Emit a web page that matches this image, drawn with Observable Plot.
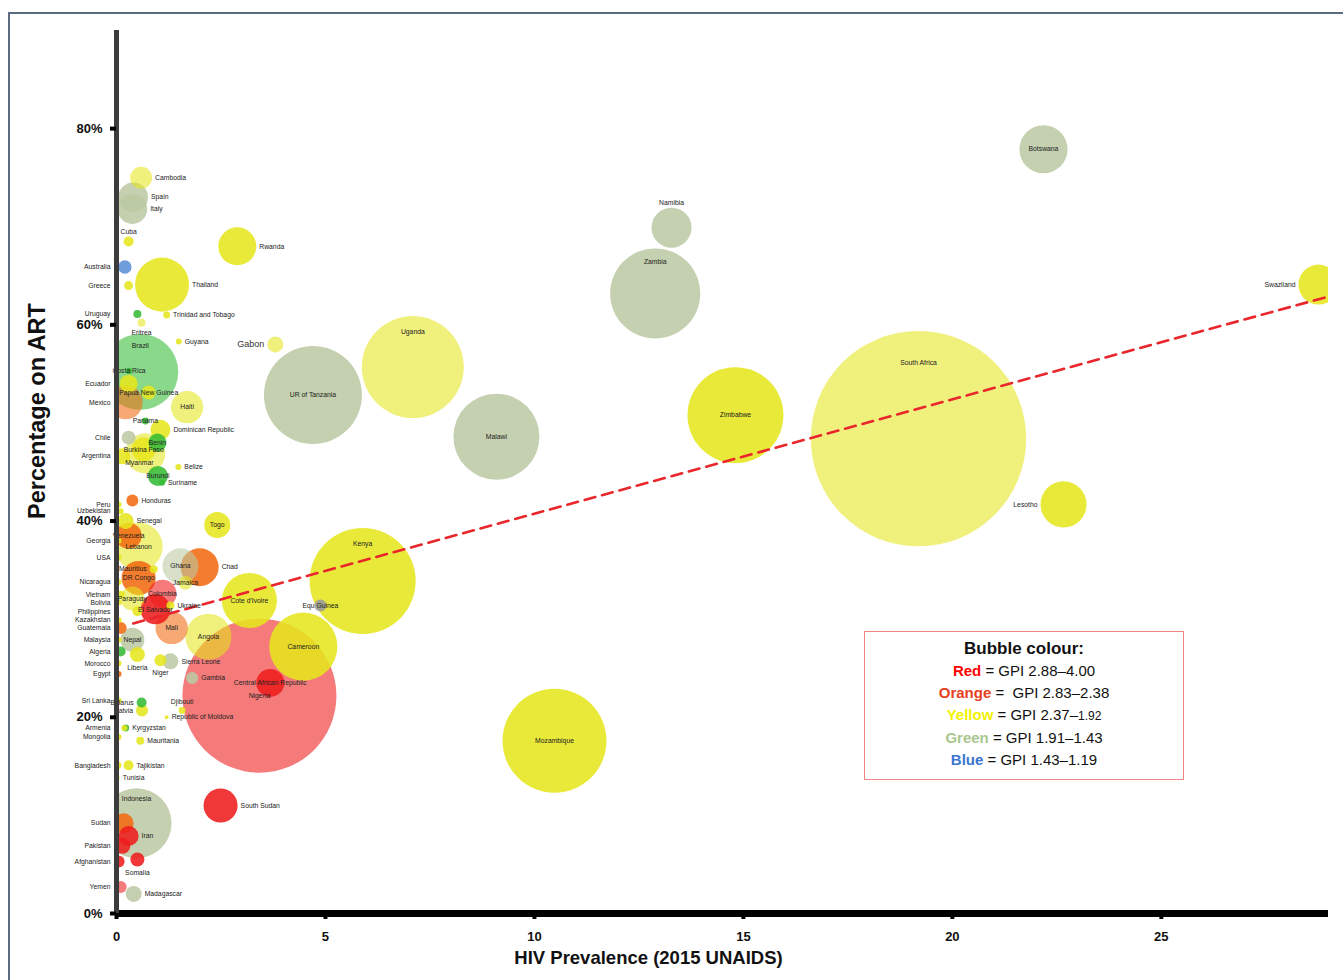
<!DOCTYPE html>
<html>
<head>
<meta charset="utf-8">
<script src="https://cdn.jsdelivr.net/npm/d3@7"></script>
<script src="https://cdn.jsdelivr.net/npm/@observablehq/plot@0.6"></script>
<style>
  html, body { margin: 0; padding: 0; background: #fff; }
  #wrap { position: relative; width: 1343px; height: 980px; overflow: hidden; }
  #frame { position: absolute; left: 8px; top: 12px; width: 1400px; height: 1000px;
           border-top: 2px solid #5d6b80; border-left: 2px solid #5d6b80; pointer-events: none; }
  #chart { position: absolute; left: 0; top: 0; }
  g[aria-label="x-axis tick label"] text, g[aria-label="y-axis tick label"] text {
    font-weight: bold; font-size: 13px; fill: #111;
  }
  #legend { position: absolute; left: 864px; top: 631px; width: 320px; height: 149px;
            border: 1px solid #ef8585; background: #fff; text-align: center;
            font-family: "Liberation Sans", Arial, sans-serif; color: #111; box-sizing: border-box;
            padding-top: 6px; }
  #legend div { line-height: 22px; font-size: 15px; }
  #legend .title { font-weight: bold; font-size: 17px; }
  #legend b { font-weight: bold; }
</style>
</head>
<body>
<div id="wrap">
  <div id="chart"></div>
  <div id="frame"></div>
  <div id="legend"></div>
</div>
<script>
// ---------------- DATA ----------------
const countries = [
  "Cambodia","Spain","Italy","Cuba","Rwanda","Australia","Thailand","Greece","Uruguay","Trinidad and Tobago",
  "Eritrea","Guyana","Gabon","Brazil","Costa Rica","Ecuador","Papua New Guinea","Mexico","Haiti","Panama",
  "Dominican Republic","Benin","Chile","Burkina Faso","Myanmar","Argentina","Belize","Burundi","Suriname","UR of Tanzania",
  "Uganda","Malawi","Botswana","Namibia","Zambia","Swaziland","South Africa","Zimbabwe","Lesotho","Kenya",
  "Mozambique","Nigeria","Cameroon","Central African Republic","Cote d'Ivoire","Equ Guinea","Angola","Chad","Ghana","Jamaica",
  "Togo","Mali","Ukraine","DR Congo","Colombia","El Salvador","Paraguay","Philippines","Guatemala","Nepal",
  "Mauritius","Lebanon","Venezuela","Senegal","Honduras","USA","Peru","Uzbekistan","Georgia","Nicaragua",
  "Vietnam","Bolivia","Kazakhstan","Malaysia","Algeria","Liberia","Niger","Sierra Leone","Morocco","Egypt",
  "Gambia","Sri Lanka","Belarus","Latvia","Djibouti","Republic of Moldova","Armenia","Kyrgyzstan","Mongolia","Mauritania",
  "Bangladesh","Tajikistan","Tunisia","Indonesia","Sudan","Iran","Pakistan","Afghanistan","Somalia","Yemen",
  "Madagascar","South Sudan"
];
// HIV prevalence (%, 2015 UNAIDS)
const hivPrevalence = [
  0.59,0.40,0.38,0.29,2.89,0.20,1.09,0.29,0.50,1.20,
  0.60,1.49,3.80,0.57,0.30,0.29,0.77,0.22,1.69,0.69,
  1.05,0.98,0.29,0.65,0.69,0.14,1.48,0.99,1.09,4.70,
  7.09,9.09,22.18,13.28,12.89,28.76,19.19,14.81,22.66,5.89,
  10.48,3.42,4.47,3.68,3.18,4.88,2.20,1.99,1.53,1.65,
  2.41,1.32,1.29,0.53,1.10,0.93,0.38,0.50,0.10,0.38,
  0.89,0.53,0.29,0.22,0.38,0.05,0.05,0.10,0.05,0.05,
  0.10,0.05,0.05,0.05,0.10,0.50,1.05,1.29,0.05,0.05,
  1.81,0.05,0.60,0.61,1.57,1.20,0.19,0.22,0.05,0.57,
  0.02,0.29,0.03,0.48,0.17,0.29,0.14,0.05,0.50,0.10,
  0.41,2.49
];
// Percentage on ART
const artCoverage = [
  75.0,73.0,71.8,68.5,68.0,65.9,64.1,64.0,61.1,61.0,
  60.2,58.3,58.0,55.2,55.3,54.0,53.1,52.1,51.6,50.2,
  49.3,48.0,48.5,47.3,46.9,46.6,45.5,44.6,43.9,52.85,
  55.7,48.6,77.9,69.9,63.2,64.1,48.4,50.8,41.7,33.9,
  17.6,22.2,27.2,23.5,31.9,31.4,28.2,35.3,35.4,33.7,
  39.6,29.1,31.4,34.2,32.6,31.0,32.1,30.8,29.1,27.9,
  35.1,37.4,38.5,40.0,42.1,36.3,41.7,41.0,38.0,33.8,
  32.5,31.7,29.9,27.9,26.7,26.4,25.8,25.7,25.5,24.4,
  24.0,21.7,21.5,20.7,20.7,20.0,18.9,18.9,18.0,17.6,
  15.1,15.1,13.8,9.2,9.2,7.9,6.9,5.3,5.5,2.7,
  2.0,11.0
];
// Bubble size (relative area units)
const bubbleSize = [
  1.2,2.2,2.2,0.25,3.6,0.45,7.3,0.2,0.16,0.12,
  0.16,0.09,0.64,14.4,0.1,0.81,0.49,2.9,2.6,0.12,
  1.0,0.81,0.49,1.44,4.0,0.64,0.09,1.0,0.09,24.0,
  26.0,18.5,5.8,4.0,20.3,4.0,116,23.0,5.3,28.1,
  27.0,59.3,11.6,1.96,7.6,0.36,5.3,3.6,3.2,0.49,
  1.7,2.6,0.16,2.9,1.96,2.25,1.44,0.25,0.36,1.44,
  0.16,5.8,1.7,0.64,0.36,0.09,0.09,0.09,0.09,0.09,
  0.16,0.09,0.09,0.09,0.25,0.56,0.36,0.64,0.09,0.09,
  0.36,0.09,0.25,0.36,0.12,0.04,0.09,0.12,0.09,0.16,
  0.16,0.25,0.04,12.25,1.0,1.0,0.64,0.36,0.49,0.36,
  0.64,2.9
];
// GPI colour band
const gpiBand = [
  "Yellow","Green","Green","Yellow","Yellow","Blue","Yellow","Yellow","Lime","Yellow",
  "Yellow","Yellow","Yellow","Lime","Lime","Yellow","Yellow","Orange","Yellow","Lime",
  "Yellow","Lime","Green","Yellow","Yellow","Yellow","Yellow","Lime","Lime","Green",
  "Yellow","Green","Green","Green","Green","Yellow","Yellow","Yellow","Yellow","Yellow",
  "Yellow","Red","Yellow","Red","Yellow","Grey","Yellow","Orange","Green","Yellow",
  "Yellow","Orange","Yellow","Orange","Red","Red","Yellow","Yellow","Orange","Green",
  "Yellow","Yellow","Orange","Yellow","Orange","Yellow","Yellow","Yellow","Yellow","Yellow",
  "Yellow","Yellow","Yellow","Yellow","Lime","Yellow","Yellow","Green","Yellow","Orange",
  "Green","Yellow","Lime","Yellow","Yellow","Yellow","Yellow","Lime","Yellow","Yellow",
  "Yellow","Yellow","Yellow","Green","Orange","Red","Red","Red","Red","Red",
  "Green","Red"
];
// Label placement relative to bubble (L: left of axis, R: right, W: west, C: centre, T: top inside, S: low inside, A: above, B: below)
const labelSide = [
  "R","R","R","A","R","L","R","L","L","R",
  "B","R","W","T","C","L","C","L","C","C",
  "R","C","L","C","S","L","R","C","R","C",
  "T","C","C","A","T","W","T","C","W","T",
  "C","C","C","C","C","C","C","R","C","C",
  "C","C","R","C","C","C","C","L","L","C",
  "W","C","C","R","R","L","L","L","L","L",
  "L","L","L","L","L","B","B","R","L","L",
  "R","L","W","W","A","R","L","R","L","R",
  "L","R","R","T","L","R","L","L","B","L",
  "R","R"
];
const bands = ["Red","Orange","Yellow","Green","Lime","Blue","Grey"];
const bandColors = ["#ee1c1c","#f26a12","#e6e61e","#bccaa4","#36bb36","#5b8fd6","#9a9a9a"];
const translucent = new Set(["South Africa","Uganda","Angola","Myanmar","Lebanon","Nigeria","Mali","Colombia",
  "Brazil","Ghana","Paraguay","Cambodia","Haiti","Gabon","Eritrea","Jamaica","Yemen","Mexico"]);

const xTicks = [0,5,10,15,20,25];
const yTicks = [0,20,40,60,80];
const xDomain = [0, 29];
const yDomain = [0, 90];
const trendIntercept = 29.1, trendSlope = 1.165, trendStartX = 0.4;
const xTitle = "HIV Prevalence (2015 UNAIDS)";
const yTitle = "Percentage on ART";
const legendTitle = "Bubble colour:";
const legendRows = [
  {name:"Red", color:"#ff0000", text:"= GPI 2.88\u20134.00", small:""},
  {name:"Orange", color:"#e8401e", text:"= \u00a0GPI 2.83\u20132.38", small:""},
  {name:"Yellow", color:"#f2f200", text:"= GPI 2.37\u2013", small:"1.92"},
  {name:"Green", color:"#a9c78e", text:"= GPI 1.91\u20131.43", small:""},
  {name:"Blue", color:"#3a76cf", text:"= GPI 1.43\u20131.19", small:""}
];

// ---------------- BUILD ----------------
const W = 1343, H = 980;
const M = {left:116, right:15, top:30, bottom:67};
const xS = Plot.scale({x:{domain:xDomain, range:[M.left, W - M.right]}});
const yS = Plot.scale({y:{domain:yDomain, range:[H - M.bottom, M.top]}});
const rS = Plot.scale({r:{type:"sqrt", domain:[0,100], range:[0,100]}});
const bandColor = new Map(bands.map((b, i) => [b, bandColors[i]]));

const data = countries.map((name, i) => ({
  name, x: hivPrevalence[i], y: artCoverage[i], size: bubbleSize[i], band: gpiBand[i], side: labelSide[i],
  op: translucent.has(name) ? 0.58 : 0.88
}));

const labels = data.map(d => {
  const px = xS.apply(d.x), py = yS.apply(d.y), r = rS.apply(d.size);
  let lx = px, ly = py, anchor = "middle";
  switch (d.side) {
    case "L": lx = M.left - 6; anchor = "end"; break;
    case "R": lx = px + r + 3; anchor = "start"; break;
    case "W": lx = px - r - 3; anchor = "end"; break;
    case "T": ly = py - 0.7 * r; break;
    case "S": ly = py + 0.45 * r; lx = px - 0.3 * r; break;
    case "A": ly = py - r - 5; break;
    case "B": ly = py + r + 6; break;
  }
  return {name: d.name, x: xS.invert(lx), y: yS.invert(ly), anchor, big: d.name === "Gabon"};
});

const trend = [trendStartX, xDomain[1]].map(x => ({x, y: trendIntercept + trendSlope * x}));

const textMarks = ["start","middle","end"].map(a =>
  Plot.text(labels.filter(l => l.anchor === a && !l.big), {
    x: "x", y: "y", text: "name", textAnchor: a, fontSize: 6.8, fill: "#222",
    fontFamily: "Liberation Sans, Arial, sans-serif"
  })
);

const plot = Plot.plot({
  width: W, height: H,
  marginLeft: M.left, marginRight: M.right, marginTop: M.top, marginBottom: M.bottom,
  style: {fontFamily: "Liberation Sans, Arial, sans-serif", background: "transparent"},
  x: {domain: xDomain},
  y: {domain: yDomain},
  r: {type: "sqrt", domain: [0,100], range: [0,100]},
  marks: [
    Plot.dot(data, {x: "x", y: "y", r: "size", fill: d => bandColor.get(d.band), fillOpacity: "op", stroke: null, clip: true, sort: {channel: "r", order: "descending"}}),
    Plot.line(trend, {x: "x", y: "y", stroke: "#e8262b", strokeWidth: 2.6, strokeDasharray: "11,7"}),
    ...textMarks,
    Plot.text(labels.filter(l => l.big), {x: "x", y: "y", text: "name", textAnchor: "end", fontSize: 9, fill: "#333"}),
    Plot.ruleY([0], {stroke: "#000", strokeWidth: 7}),
    Plot.ruleX([0], {stroke: "#3c3c3c", strokeWidth: 5}),
    Plot.axisX({ticks: xTicks, tickSize: 6, tickPadding: 12, strokeWidth: 4, label: null, fontSize: 13}),
    Plot.axisY({ticks: yTicks, tickFormat: d => d + "%", tickSize: 6, tickPadding: 8, strokeWidth: 4, label: null, fontSize: 13}),
    Plot.text([yTitle], {frameAnchor: "left", text: d => d, rotate: -90, textAnchor: "middle", lineAnchor: "middle", dx: -79, dy: -61, fontSize: 23.5, fontWeight: "bold", fill: "#111"}),
    Plot.text([xTitle], {frameAnchor: "bottom", text: d => d, textAnchor: "middle", lineAnchor: "middle", dx: -74, dy: 45, fontSize: 18.5, fontWeight: "bold", fill: "#111"})
  ]
});
document.getElementById("chart").appendChild(plot);

const legend = document.getElementById("legend");
const t = document.createElement("div");
t.className = "title"; t.textContent = legendTitle; legend.appendChild(t);
legendRows.forEach(row => {
  const div = document.createElement("div");
  const b = document.createElement("b");
  b.style.color = row.color; b.textContent = row.name;
  div.appendChild(b);
  div.appendChild(document.createTextNode(" " + row.text));
  if (row.small) {
    const s = document.createElement("span");
    s.style.fontSize = "12px"; s.textContent = row.small; div.appendChild(s);
  }
  legend.appendChild(div);
});
</script>
</body>
</html>
